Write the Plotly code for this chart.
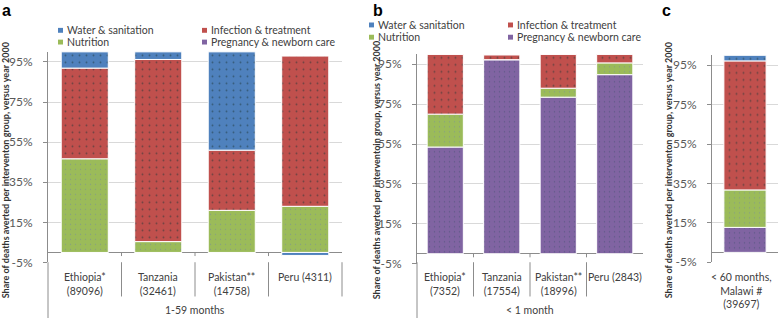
import plotly.graph_objects as go

# ---------------- data ----------------
series_names = ["Pregnancy & newborn care", "Nutrition", "Infection & treatment", "Water & sanitation"]
series_colors = ["#8064A2", "#9BBB59", "#C0504D", "#4F81BD"]

cats_a = ["Ethiopia* (89096)", "Tanzania (32461)", "Pakistan** (14758)", "Peru (4311)"]
labels_a = ["Ethiopia*<br>(89096)", "Tanzania<br>(32461)", "Pakistan**<br>(14758)", "Peru (4311)"]
group_a = "1-59 months"
pregnancy_a = [0, 0, 0, 0]
nutrition_a = [46.7, 5.4, 21.0, 23.0]
infection_a = [45.2, 90.8, 30.0, 74.9]
water_a = [8.1, 3.8, 49.0, -1.5]

cats_b = ["Ethiopia* (7352)", "Tanzania (17554)", "Pakistan** (18996)", "Peru (2843)"]
labels_b = ["Ethiopia*<br>(7352)", "Tanzania<br>(17554)", "Pakistan**<br>(18996)", "Peru (2843)"]
group_b = "< 1 month"
pregnancy_b = [53.5, 97.3, 78.5, 89.8]
nutrition_b = [16.5, 0, 4.5, 5.9]
infection_b = [30.0, 2.5, 17.0, 4.3]
water_b = [0, 0, 0, 0]

cats_c = ["< 60 months, Malawi # (39697)"]
labels_c = ["< 60 months,<br>Malawi #<br>(39697)"]
pregnancy_c = [12.7]
nutrition_c = [19.0]
infection_c = [65.5]
water_c = [2.8]

ytick_vals = [-5, 15, 35, 55, 75, 95]
ytick_text = ["-5%", "15%", "35%", "55%", "75%", "95%"]

ytitle_a = "Share of deaths averted per interventon group, versus year 2000"
ytitle_b = "Share of deaths averted per interventoin group, versus year 2000"
ytitle_c = "Share of deaths averted per interventon group, versus year 2000"

# ---------------- layout helpers ----------------
W, H = 778, 325
def px(x):
    return x / W
def py(y):
    return 1 - y / H

FONT = "Lato, 'Open Sans', Arial, sans-serif"
TXT = "#404040"
LBL = 10.5

dot_dark = {"#C0504D": "#1d3535", "#4F81BD": "#1d3535", "#9BBB59": "#7585a8", "#8064A2": "#3c4f6a"}
dot_size = {"#C0504D": 7, "#4F81BD": 7, "#9BBB59": 5, "#8064A2": 5}

fig = go.Figure()

panels = [
    ("x", "y", cats_a, [pregnancy_a, nutrition_a, infection_a, water_a]),
    ("x2", "y2", cats_b, [pregnancy_b, nutrition_b, infection_b, water_b]),
    ("x3", "y3", cats_c, [pregnancy_c, nutrition_c, infection_c, water_c]),
]
for xa, ya, cats, vals in panels:
    for name, col, v in zip(series_names, series_colors, vals):
        fig.add_trace(go.Bar(
            x=cats, y=v, name=name, xaxis=xa, yaxis=ya, showlegend=False,
            marker=dict(color=col, line=dict(color="white", width=1),
                        pattern=dict(shape=".", fgcolor=dot_dark[col], bgcolor=col,
                                     size=dot_size[col], solidity=0.06, fillmode="overlay")),
        ))

def yax(domain_y, anchor):
    return dict(domain=domain_y, anchor=anchor, range=[-5, 100], tickvals=ytick_vals, ticktext=ytick_text,
                showgrid=True, gridcolor="#d9d9d9", gridwidth=1, zeroline=True, zerolinecolor="#8c8c8c",
                zerolinewidth=1, showline=True, linecolor="#8c8c8c", ticks="outside", ticklen=4,
                tickcolor="#8c8c8c", ticklabelstandoff=8,
                tickfont=dict(family=FONT, size=12, color="#595959"), fixedrange=True)

def xax(domain_x, anchor):
    return dict(domain=domain_x, anchor=anchor, range=[-0.5, len(cats_a) - 0.5], showticklabels=False,
                showline=False, showgrid=False, zeroline=False, type="category", fixedrange=True)

fig.update_layout(
    width=W, height=H, autosize=False, margin=dict(l=0, r=0, t=0, b=0),
    paper_bgcolor="white", plot_bgcolor="white", barmode="relative", bargap=0.36,
    font=dict(family=FONT, color=TXT),
    xaxis=xax([px(48), px(342)], "y"),
    yaxis=yax([py(268.25), py(53)], "x"),
    xaxis2=xax([px(417), px(643)], "y2"),
    yaxis2=yax([py(269.5), py(55.5)], "x2"),
    xaxis3=dict(xax([px(712), 1.0], "y3"), range=[-0.5, 0.5]),
    yaxis3=yax([py(268), py(56.6)], "x3"),
)

shapes = []
ann = []

# category labels, separators
for xa, cats, labels, group, axis_px, right_px in [
    ("x", cats_a, labels_a, group_a, 48, 342),
    ("x2", cats_b, labels_b, group_b, 417, 643),
]:
    for i, (c, lab) in enumerate(zip(cats, labels)):
        ann.append(dict(x=c, y=py(275), xref=xa, yref="paper", text=lab, showarrow=False,
                        yanchor="top", xanchor="center", align="center",
                        font=dict(family=FONT, size=LBL, color=TXT)))
    for k in range(len(cats) - 1):
        shapes.append(dict(type="line", xref=xa, yref="paper", x0=k + 0.5, x1=k + 0.5,
                           y0=py(303), y1=py(268), line=dict(color="#8c8c8c", width=1)))
        shapes.append(dict(type="line", xref=xa, yref="y" + xa[1:], x0=k + 0.5, x1=k + 0.5,
                           y0=0, y1=-1.8, line=dict(color="#8c8c8c", width=1)))
    ann.append(dict(x=px((axis_px + right_px) / 2), y=py(317), xref="paper", yref="paper", text=group,
                    showarrow=False, xanchor="center", yanchor="middle",
                    font=dict(family=FONT, size=LBL, color=TXT)))
    shapes.append(dict(type="line", xref="paper", yref="paper", x0=px(axis_px), x1=px(axis_px),
                       y0=0, y1=py(268), line=dict(color="#8c8c8c", width=1)))

shapes.append(dict(type="line", xref="paper", yref="paper", x0=px(342), x1=px(342),
                   y0=py(303), y1=py(268), line=dict(color="#8c8c8c", width=1)))

ann.append(dict(x=px(741), y=py(275), xref="paper", yref="paper", text=labels_c[0], showarrow=False,
                yanchor="top", xanchor="center", align="center",
                font=dict(family=FONT, size=LBL, color=TXT)))

# y titles
for xp, t in [(5, ytitle_a), (376, ytitle_b), (668, ytitle_c)]:
    ann.append(dict(x=px(xp), y=py(174), xref="paper", yref="paper", text=t, textangle=-90,
                    showarrow=False, xanchor="center", yanchor="middle",
                    font=dict(family=FONT, size=9, color="#333333", weight="bold")))

# panel letters
for xp, t in [(0, "a"), (371, "b"), (660, "c")]:
    ann.append(dict(x=px(xp), y=1.0, xref="paper", yref="paper", text=t, showarrow=False,
                    xanchor="left", yanchor="top",
                    font=dict(family="Arial, 'Liberation Sans', sans-serif", size=16, color="black",
                              weight="bold")))

# legends
legend_pos = [
    {"Water & sanitation": (58, 31), "Nutrition": (58, 43),
     "Infection & treatment": (202, 31), "Pregnancy & newborn care": (202, 43)},
    {"Water & sanitation": (369, 25.5), "Nutrition": (369, 38),
     "Infection & treatment": (508, 25.5), "Pregnancy & newborn care": (508, 38)},
]
for pos in legend_pos:
    for name, col in zip(series_names, series_colors):
        sx, sy = pos[name]
        shapes.append(dict(type="rect", xref="paper", yref="paper", x0=px(sx), x1=px(sx + 5),
                           y0=py(sy + 2.5), y1=py(sy - 2.5), fillcolor=col, line=dict(width=0)))
        ann.append(dict(x=px(sx + 7), y=py(sy), xref="paper", yref="paper", text=name, showarrow=False,
                        xanchor="left", yanchor="middle",
                        font=dict(family=FONT, size=10.5, color=TXT)))

fig.update_layout(shapes=shapes, annotations=ann)
fig.write_html("out.html", config={"displayModeBar": False, "staticPlot": True},
               post_script="document.body.style.margin='0';document.body.style.overflow='hidden';")
